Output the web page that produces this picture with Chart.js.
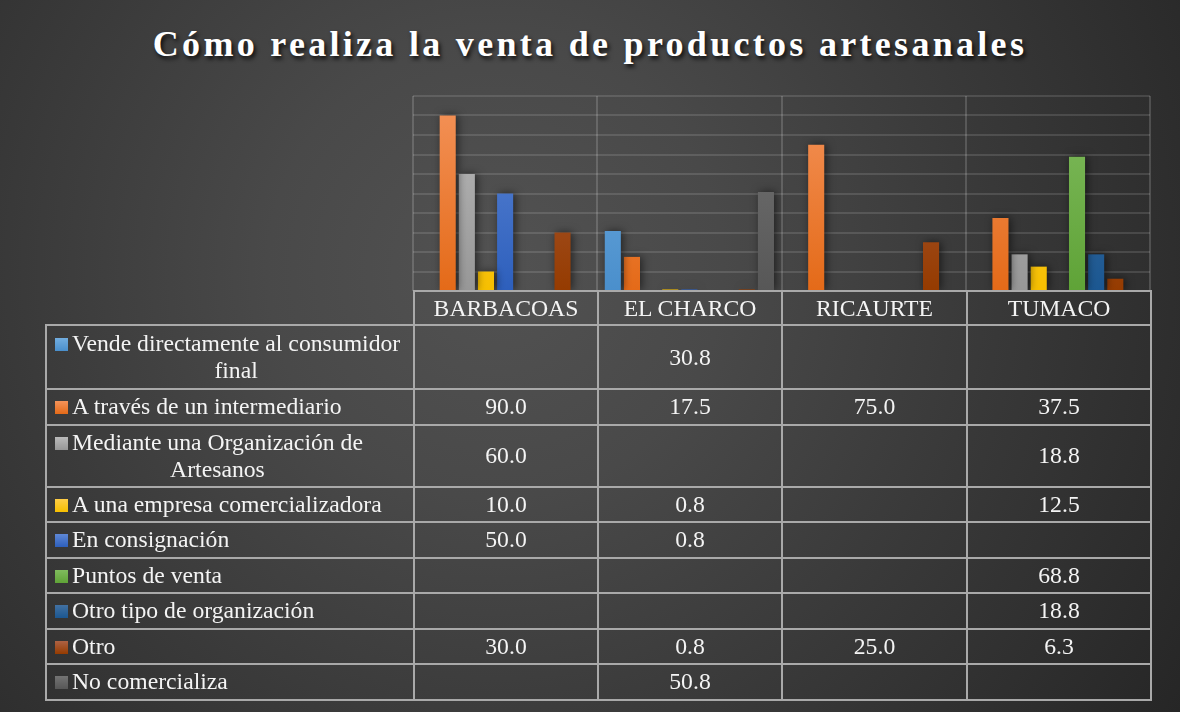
<!DOCTYPE html>
<html lang="es">
<head>
<meta charset="UTF-8">
<title>Cómo realiza la venta de productos artesanales</title>
<style>
    html, body {
        margin: 0;
        padding: 0;
        width: 1180px;
        height: 712px;
        overflow: hidden;
    }
    body {
        font-family: "Liberation Serif", "Times New Roman", serif;
        color: #f4f4f4;
        background: radial-gradient(circle at 42% 38%, #525252 0%, #494949 28%, #383838 62%, #262626 100%);
        position: relative;
    }
    h1 {
        position: absolute;
        left: 0;
        top: 23px;
        width: 1180px;
        margin: 0;
        text-align: center;
        font-family: "Liberation Serif", serif;
        font-size: 36px;
        font-weight: bold;
        letter-spacing: 3.3px;
        color: #ffffff;
        text-shadow: 2px 3px 4px rgba(0, 0, 0, 0.8);
    }
    .chart-box {
        position: absolute;
        left: 403px;
        top: 86px;
        width: 757px;
        height: 215px;
    }
    table {
        position: absolute;
        left: 45px;
        top: 290px;
        border-collapse: collapse;
        table-layout: fixed;
    }
    td {
        font-family: "Liberation Serif", serif;
        font-size: 23.7px;
        color: #f4f4f4;
        border: 2px solid #a9a9a9;
        text-align: center;
        padding: 0;
        line-height: 27px;
    }
    td.blank {
        border: none;
    }
    td.lbl {
        text-align: left;
        padding-left: 8px;
    }
    .lbl-inner {
        display: flex;
        align-items: flex-start;
    }
    .sw {
        width: 13px;
        height: 13px;
        margin-top: 8px;
        margin-right: 4px;
        flex: none;
    }
    .txt {
        display: inline-block;
        text-align: center;
        white-space: nowrap;
    }
</style>
</head>
<body>
    <h1>Cómo realiza la venta de productos artesanales</h1>
    <div class="chart-box">
        <canvas id="chart" width="757" height="215"></canvas>
    </div>
    <table id="dataTable"></table>

    <script src="https://cdn.jsdelivr.net/npm/chart.js"></script>
    <script>
        // municipios
        const categories = ['BARBACOAS', 'EL CHARCO', 'RICAURTE', 'TUMACO'];

        const seriesNames = [
            'Vende directamente al consumidor final',
            'A través de un intermediario',
            'Mediante una Organización de Artesanos',
            'A una empresa comercializadora',
            'En consignación',
            'Puntos de venta',
            'Otro tipo de organización',
            'Otro',
            'No comercializa'
        ];

        // values per series, one per municipio (null = empty cell)
        const vendeDirecto   = [null, 30.8, null, null];
        const intermediario  = [90.0, 17.5, 75.0, 37.5];
        const organizacion   = [60.0, null, null, 18.8];
        const empresa        = [10.0, 0.8, null, 12.5];
        const consignacion   = [50.0, 0.8, null, null];
        const puntosVenta    = [null, null, null, 68.8];
        const otroTipo       = [null, null, null, 18.8];
        const otro           = [30.0, 0.8, 25.0, 6.3];
        const noComercializa = [null, 50.8, null, null];

        const seriesValues = [vendeDirecto, intermediario, organizacion, empresa,
            consignacion, puntosVenta, otroTipo, otro, noComercializa];

        // [top, bottom] of each bar gradient
        const colors = [
            ['#72addf', '#4a8fcc'],
            ['#f4935a', '#e46a18'],
            ['#bababa', '#979797'],
            ['#ffce48', '#f6bf00'],
            ['#5f88d6', '#2d5fbc'],
            ['#80bb5e', '#5fa337'],
            ['#4271a2', '#1b5791'],
            ['#ad6244', '#953b00'],
            ['#747474', '#575757']
        ];

        function barGradient(i) {
            return function(context) {
                const area = context.chart.chartArea;
                if (!area) return colors[i][1];
                const g = context.chart.ctx.createLinearGradient(0, area.top, 0, area.bottom);
                g.addColorStop(0, colors[i][0]);
                g.addColorStop(1, colors[i][1]);
                return g;
            };
        }

        // soft shadow behind the bars
        const shadowPlugin = {
            id: 'barShadow',
            beforeDatasetsDraw(chart) {
                const ctx = chart.ctx;
                ctx.save();
                ctx.shadowColor = 'rgba(0, 0, 0, 0.55)';
                ctx.shadowBlur = 8;
                ctx.shadowOffsetX = 2;
                ctx.shadowOffsetY = 0;
            },
            afterDatasetsDraw(chart) {
                chart.ctx.restore();
            }
        };

        const ctx = document.getElementById('chart').getContext('2d');
        new Chart(ctx, {
            type: 'bar',
            data: {
                labels: categories,
                datasets: seriesNames.map((name, i) => ({
                    label: name,
                    data: seriesValues[i],
                    backgroundColor: barGradient(i),
                    borderWidth: 0,
                    categoryPercentage: 0.935,
                    barPercentage: 0.84
                }))
            },
            options: {
                responsive: false,
                animation: false,
                layout: { padding: 10 },
                plugins: {
                    legend: { display: false },
                    tooltip: { enabled: false }
                },
                scales: {
                    x: {
                        offset: true,
                        ticks: { display: false },
                        border: { display: false },
                        grid: {
                            offset: true,
                            drawTicks: false,
                            color: 'rgba(255, 255, 255, 0.16)',
                            lineWidth: 2
                        }
                    },
                    y: {
                        min: 0,
                        max: 100,
                        ticks: { display: false, stepSize: 10 },
                        border: { display: false },
                        grid: {
                            drawTicks: false,
                            color: 'rgba(255, 255, 255, 0.12)',
                            lineWidth: 2
                        }
                    }
                }
            },
            plugins: [shadowPlugin]
        });

        // break a legend label into lines no wider than maxW
        const measurer = document.createElement('canvas').getContext('2d');
        function wrapLines(text, font, maxW) {
            measurer.font = font;
            const words = text.split(' ');
            const lines = [];
            let cur = '';
            words.forEach(w => {
                const test = cur ? cur + ' ' + w : w;
                if (cur && measurer.measureText(test).width > maxW) {
                    lines.push(cur);
                    cur = w;
                } else {
                    cur = test;
                }
            });
            if (cur) lines.push(cur);
            return lines;
        }

        // data table under the chart
        function buildTable() {
            const table = document.getElementById('dataTable');
            const colW = [368, 184, 184, 185, 184];
            const cg = document.createElement('colgroup');
            colW.forEach(w => {
                const c = document.createElement('col');
                c.style.width = w + 'px';
                cg.appendChild(c);
            });
            table.appendChild(cg);

            const head = document.createElement('tr');
            head.style.height = '34px';
            const blank = document.createElement('td');
            blank.className = 'blank';
            head.appendChild(blank);
            categories.forEach(cat => {
                const td = document.createElement('td');
                td.textContent = cat;
                head.appendChild(td);
            });
            table.appendChild(head);

            const font = '23.7px "Liberation Serif"';
            seriesNames.forEach((name, i) => {
                const lines = wrapLines(name, font, 338);
                const tr = document.createElement('tr');
                tr.style.height = lines.length > 1 ? (i === 0 ? '64px' : '62px') : '35.5px';
                const lbl = document.createElement('td');
                lbl.className = 'lbl';
                const inner = document.createElement('div');
                inner.className = 'lbl-inner';
                const sw = document.createElement('span');
                sw.className = 'sw';
                sw.style.background = 'linear-gradient(' + colors[i][0] + ', ' + colors[i][1] + ')';
                const txt = document.createElement('span');
                txt.className = 'txt';
                lines.forEach((ln, k) => {
                    if (k > 0) txt.appendChild(document.createElement('br'));
                    txt.appendChild(document.createTextNode(ln));
                });
                inner.appendChild(sw);
                inner.appendChild(txt);
                lbl.appendChild(inner);
                tr.appendChild(lbl);
                seriesValues[i].forEach(v => {
                    const td = document.createElement('td');
                    td.textContent = v === null ? '' : v.toFixed(1);
                    tr.appendChild(td);
                });
                table.appendChild(tr);
            });
        }
        buildTable();
    </script>
</body>
</html>
